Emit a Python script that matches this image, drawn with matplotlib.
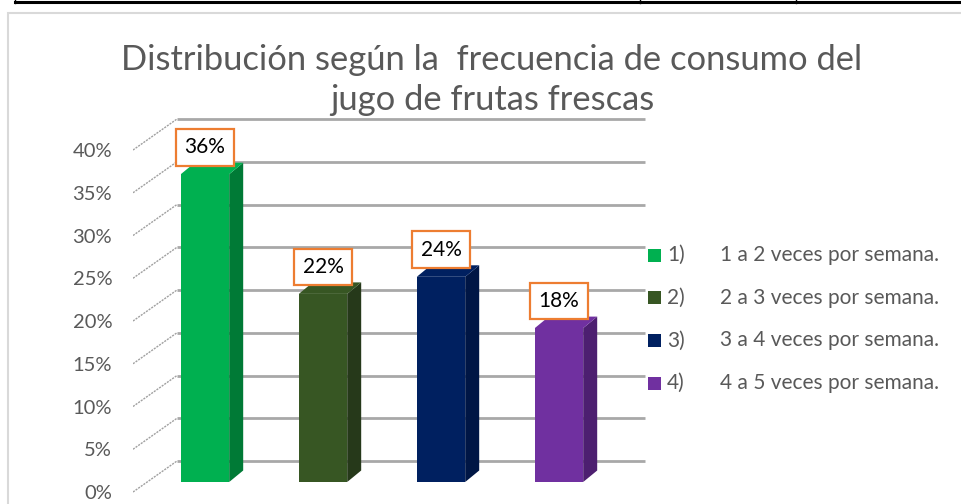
import matplotlib
matplotlib.use('Agg')
import matplotlib.pyplot as plt
from matplotlib.patches import Polygon, Rectangle
from matplotlib.lines import Line2D

# data
codes = ['1)', '2)', '3)', '4)']
labels = ['1 a 2 veces por semana.', '2 a 3 veces por semana.',
          '3 a 4 veces por semana.', '4 a 5 veces por semana.']
values = [36, 22, 24, 18]
ticks = [0, 5, 10, 15, 20, 25, 30, 35, 40]
title_lines = ['Distribución según la  frecuencia de consumo del',
               'jugo de frutas frescas']

front_colors = ['#00b050', '#375623', '#002060', '#7030a0']
side_colors = ['#007a36', '#26391a', '#001645', '#4d1f70']

plt.rcParams['font.family'] = ['Lato', 'DejaVu Sans']
W, H = 962, 504
fig = plt.figure(figsize=(W / 100, H / 100), dpi=100)


def px_box(l, t, r, b):
    return [l / W, 1 - b / H, (r - l) / W, (b - t) / H]


ax = fig.add_axes(px_box(133, 100, 650, 500))
# x: category index, 118 px apart; y: percent on the front (label) plane
ax.set_xlim((133 - 205) / 118, (650 - 205) / 118)
ax.set_ylim((492 - 500) / 8.55, (492 - 100) / 8.55)

# fake 3d depth (in data units)
wall_x0 = (133 - 205) / 118
wall_dx = 44 / 118
wall_dy = 31 / 8.55
grid_end = (645 - 205) / 118
bar_base = 10 / 8.55
bar_w = 0.41
bar_dx = 14 / 118
bar_dy = 11.5 / 8.55

for t in ticks:
    ax.plot([wall_x0, wall_x0 + wall_dx], [t, t + wall_dy], color='#a0a0a0',
            lw=1, ls=(0, (1.5, 0.8)), zorder=1)
    ax.plot([wall_x0 + wall_dx, grid_end], [t + wall_dy] * 2, color='#a8a8a8',
            lw=2, solid_capstyle='butt', zorder=1)

for i, v in enumerate(values):
    x0, x1 = i - bar_w / 2, i + bar_w / 2
    ax.add_patch(Rectangle((x0, bar_base), bar_w, v, color=front_colors[i], lw=0, zorder=3))
    ax.add_patch(Polygon([(x1, bar_base), (x1 + bar_dx, bar_base + bar_dy),
                          (x1 + bar_dx, bar_base + v + bar_dy), (x1, bar_base + v)],
                         closed=True, color=side_colors[i], lw=0, zorder=3))
    ax.add_patch(Polygon([(x0, bar_base + v), (x1, bar_base + v),
                          (x1 + bar_dx, bar_base + v + bar_dy), (x0 + bar_dx, bar_base + v + bar_dy)],
                         closed=True, color=front_colors[i], lw=0, zorder=3))
    ax.text(i, bar_base + v + 3.16, f'{v}%', ha='center', va='center', fontsize=15,
            color='black', zorder=5,
            bbox=dict(boxstyle='square,pad=0.4', fc='white', ec='#ed7d31', lw=1.6))

ax.set_yticks(ticks)
ax.set_yticklabels([f'{t}%' for t in ticks], fontsize=14.5, color='#595959')
ax.tick_params(axis='y', length=0, pad=15)
ax.set_xticks([])
for s in ax.spines.values():
    s.set_visible(False)
ax.patch.set_alpha(0)

# title
fig.text(492 / W, 1 - 70 / H, title_lines[0], ha='center', va='baseline',
         fontsize=24.8, color='#595959')
fig.text(492 / W, 1 - 110 / H, title_lines[1], ha='center', va='baseline',
         fontsize=24.8, color='#595959')

# legend
for i in range(len(codes)):
    yc = 255 + 42.7 * i
    fig.add_artist(Rectangle((648 / W, 1 - (yc + 6.5) / H), 13 / W, 13 / H,
                             transform=fig.transFigure, color=front_colors[i], lw=0))
    fig.text(667 / W, 1 - yc / H, codes[i], ha='left', va='center', fontsize=15, color='#595959')
    fig.text(720 / W, 1 - yc / H, labels[i], ha='left', va='center', fontsize=15, color='#595959')

# chart frame and the table line above it
fig.add_artist(Rectangle((8 / W, -0.1), 1.0, 1.1 - 13 / H, transform=fig.transFigure,
                         fill=False, ec='#d9d9d9', lw=1.5))
fig.add_artist(Line2D([15 / W, 1], [1 - 1.5 / H] * 2, transform=fig.transFigure,
                      color='black', lw=2.2))
for xp in [15, 640, 796]:
    fig.add_artist(Line2D([xp / W] * 2, [1, 1 - 3 / H], transform=fig.transFigure,
                          color='black', lw=1))

fig.savefig('out.png', dpi=100)
